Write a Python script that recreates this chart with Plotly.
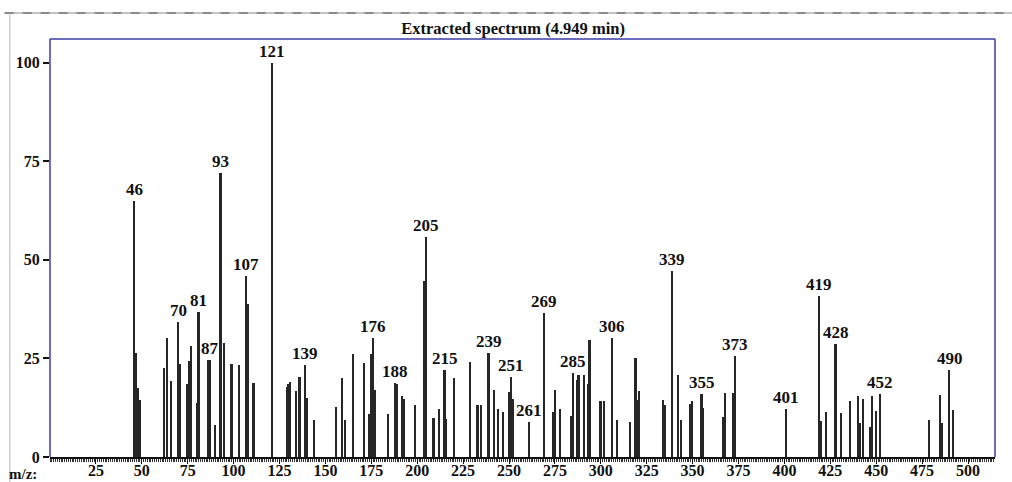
import plotly.graph_objects as go

# Mass spectrum peaks: m/z and relative abundance (%)
mz = [46, 47, 48, 49, 62, 64, 66, 70, 71, 75, 76, 77, 80, 81, 86, 87, 90, 93, 95,
      99, 103, 107, 108, 111, 121, 129, 130, 131, 134, 136, 139, 140, 144,
      156, 159, 161, 165, 171, 174, 175, 176, 177, 184, 188, 189, 192, 193, 199,
      204, 205, 209, 212, 215, 216, 220, 229, 233, 235, 239, 242, 244, 247,
      250, 251, 252, 261, 269, 274, 275, 278, 284, 285, 287, 288, 291, 293, 294,
      300, 302, 306, 309, 316, 319, 320, 321, 334, 335, 339, 342, 344, 349, 350,
      355, 356, 367, 368, 372, 373, 401, 419, 420, 423, 428, 431, 436, 440, 441,
      443, 447, 448, 450, 452, 479, 485, 486, 490, 492]
intensity = [65.0, 26.3, 17.4, 14.4, 22.5, 30.2, 19.3, 34.3, 23.5, 18.5, 24.3, 28.1, 13.6, 36.7, 24.5, 24.5, 8.0, 72.1, 28.9,
             23.7, 23.3, 45.9, 38.8, 18.8, 100.0, 17.8, 18.6, 19.0, 16.7, 20.2, 23.4, 15.0, 9.5,
             12.7, 20.1, 9.5, 26.0, 23.9, 11.0, 26.2, 30.3, 17.1, 10.8, 18.8, 18.4, 15.4, 14.6, 13.1,
             44.7, 55.8, 9.9, 12.1, 22.0, 9.7, 20.1, 24.0, 13.2, 13.2, 26.5, 17.1, 12.2, 11.3,
             16.4, 20.3, 14.6, 8.9, 36.4, 11.3, 17.1, 12.3, 10.3, 21.3, 19.5, 20.7, 20.7, 18.6, 29.6,
             14.1, 14.1, 30.3, 9.5, 8.9, 25.2, 14.4, 16.8, 14.4, 13.1, 47.1, 20.7, 9.3, 13.5, 14.2,
             15.9, 12.4, 10.2, 16.2, 16.2, 25.7, 12.1, 40.8, 9.1, 11.4, 28.6, 11.2, 14.1, 15.4, 8.5,
             14.7, 7.6, 15.4, 11.7, 15.9, 9.5, 15.7, 8.6, 22.0, 12.0]

# Peaks that carry an m/z label
labeled = [46, 70, 81, 87, 93, 107, 121, 139, 176, 188, 205, 215, 239, 251,
           261, 269, 285, 306, 339, 355, 373, 401, 419, 428, 452, 490]

x_ticks = [25, 50, 75, 100, 125, 150, 175, 200, 225, 250, 275, 300, 325,
           350, 375, 400, 425, 450, 475, 500]
y_ticks = [0, 25, 50, 75, 100]

FONT = "Liberation Serif"
FRAME = "#3b3ba6"

fig = go.Figure()
fig.add_trace(go.Bar(x=mz, y=intensity, width=0.9,
                     marker=dict(color="#262626", line=dict(width=0)),
                     hoverinfo="x+y"))

peak_height = dict(zip(mz, intensity))
for m in labeled:
    fig.add_annotation(x=m, y=peak_height[m], text=f"<b>{m}</b>",
                       showarrow=False, yanchor="bottom", yshift=0,
                       font=dict(family=FONT, size=17, color="#111"))

# Axis caption at the lower left
fig.add_annotation(xref="paper", yref="paper", x=-0.0286, y=-0.0395,
                   xanchor="center", yanchor="middle", text="<b>m/z:</b>",
                   showarrow=False, font=dict(family=FONT, size=15, color="#111"))

# Blue frame around the plot (left, top, right); bottom is the x-axis ruler
for x0, y0, x1, y1 in [(0, 0, 0, 1), (0, 1, 1, 1), (1, 1, 1, 0)]:
    fig.add_shape(type="line", xref="paper", yref="paper", x0=x0, y0=y0,
                  x1=x1, y1=y1, line=dict(color=FRAME, width=1.5))

# Page rule at the top and faint left border
fig.add_shape(type="line", xref="paper", yref="paper", x0=-0.048, y0=1.062,
              x1=1.02, y1=1.062, line=dict(color="#b0b0b0", width=1.5))
fig.add_shape(type="line", xref="paper", yref="paper", x0=-0.048, y0=1.062,
              x1=1.02, y1=1.062, line=dict(color="#8a8a8a", width=2, dash="dash"))
fig.add_shape(type="line", xref="paper", yref="paper", x0=-0.0425, y0=1.062,
              x1=-0.0425, y1=-0.07, line=dict(color="#b5b5b5", width=1))

fig.update_layout(
    width=1012, height=482,
    margin=dict(l=50, r=17, t=39, b=25),
    paper_bgcolor="white", plot_bgcolor="white",
    showlegend=False, bargap=0,
    title=dict(text="<b>Extracted spectrum (4.949 min)</b>", x=0.507, xanchor="center",
               y=0.942, yanchor="middle",
               font=dict(family=FONT, size=16.5, color="#111")),
    xaxis=dict(range=[0, 514.7], tickvals=x_ticks, automargin=False,
               ticktext=[f"<b>{t}</b>" for t in x_ticks],
               showgrid=False, zeroline=False, showline=True, linecolor="#111",
               linewidth=1.5, ticks="outside", ticklen=5, tickwidth=1,
               tickcolor="#111", ticklabelstandoff=-7,
               minor=dict(dtick=1, tick0=0, ticks="outside", ticklen=3,
                          tickwidth=1, tickcolor="#333"),
               tickfont=dict(family=FONT, size=16, color="#111")),
    yaxis=dict(range=[0, 106], tickvals=y_ticks, automargin=False,
               ticktext=[f"<b>{t}</b>" for t in y_ticks],
               showgrid=False, zeroline=False, showline=False,
               ticks="outside", ticklen=6, tickwidth=1.5, tickcolor="#111",
               tickfont=dict(family=FONT, size=16, color="#111")),
)

fig.write_html("out.html")
